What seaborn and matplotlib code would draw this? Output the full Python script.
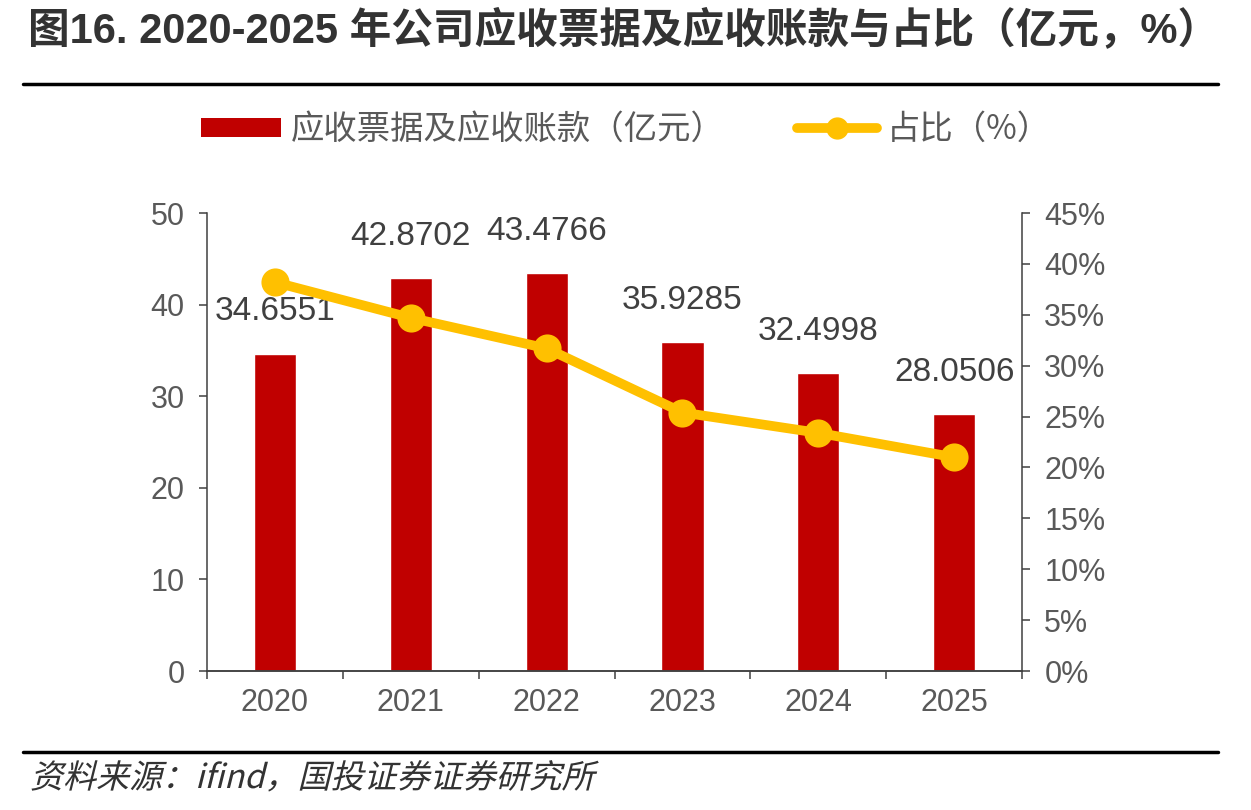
import numpy as np
import pandas as pd
import seaborn as sns
import matplotlib.pyplot as plt
from matplotlib.lines import Line2D
from matplotlib.patches import Patch, PathPatch
from matplotlib.textpath import TextPath
from matplotlib.transforms import Affine2D
from matplotlib.font_manager import FontProperties
from matplotlib.ticker import MultipleLocator, FuncFormatter

sns.set_style('white')
plt.rcParams['font.family'] = ['Liberation Sans', 'Noto Sans CJK SC', 'DejaVu Sans']

years = ['2020', '2021', '2022', '2023', '2024', '2025']
receivables = [34.6551, 42.8702, 43.4766, 35.9285, 32.4998, 28.0506]
ratio = [38.2, 34.7, 31.7, 25.4, 23.4, 21.0]
bar_name = '应收票据及应收账款（亿元）'
line_name = '占比（%）'
title = '图16. 2020-2025 年公司应收票据及应收账款与占比（亿元，%）'
source = '资料来源：ifind，国投证券证券研究所'

df = pd.DataFrame({'year': years, 'value': receivables, 'ratio': ratio})

red = '#C00000'
gold = '#FFC000'
grey = '#595959'
dark = '#404040'
cjk = ['Noto Sans CJK SC', 'DejaVu Sans']

fig = plt.figure(figsize=(12.51, 8.1), dpi=100)
ax = fig.add_axes([0.1655, 0.1716, 0.6515, 0.5654])

sns.barplot(data=df, x='year', y='value', color=red, width=0.31,
            saturation=1, ax=ax)
ax.set_ylim(0, 50)
ax.set_xlim(-0.5, 5.5)
ax.yaxis.set_major_locator(MultipleLocator(10))

# data labels above bars
for i, v in enumerate(receivables):
    ax.annotate(f'{v:.4f}', (i, v), xytext=(0, 30), textcoords='offset points',
                ha='center', va='center', fontsize=24, color=dark)

ax2 = ax.twinx()
sns.pointplot(data=df, x='year', y='ratio', color=gold, markers='o',
              markersize=15, linewidth=7, ax=ax2)
ax2.set_ylim(0, 45)
ax2.set_xlim(-0.5, 5.5)
ax2.yaxis.set_major_locator(MultipleLocator(5))
ax2.yaxis.set_major_formatter(FuncFormatter(lambda v, p: f'{v:.0f}%'))

for a in (ax, ax2):
    a.set_xlabel('')
    a.set_ylabel('')
    a.spines['top'].set_visible(False)
    for s in ('left', 'right', 'bottom'):
        a.spines[s].set_color(dark)
        a.spines[s].set_linewidth(1.1)
    a.tick_params(axis='y', direction='out', length=6, width=1.1,
                  color=dark, labelsize=22, labelcolor=grey, pad=10)

ax.spines['right'].set_visible(False)
ax2.spines['left'].set_visible(False)
ax.tick_params(axis='y', left=True)
ax2.tick_params(axis='y', right=True)

# x ticks: labels at categories, marks between categories
ax.set_xticks(range(len(years)))
ax.set_xticklabels(years)
ax.tick_params(axis='x', which='major', length=0, labelsize=22,
               labelcolor=grey, pad=12)
ax.set_xticks(np.arange(-0.5, 6, 1), minor=True)
ax.tick_params(axis='x', which='minor', direction='out', length=6,
               width=1.1, color=dark, bottom=True)
ax2.tick_params(axis='x', length=0, labelbottom=False)

# legend
handles = [Patch(facecolor=red, edgecolor='none', label=bar_name),
           Line2D([], [], color=gold, lw=7, marker='o', markersize=15,
                  label=line_name)]
fig.legend(handles=handles, loc='center', bbox_to_anchor=(0.5004, 0.84),
           ncol=2, frameon=False, handlelength=2.4, handleheight=0.5,
           handletextpad=0.3, columnspacing=2.15,
           prop={'family': cjk, 'size': 24}, labelcolor=grey)

# title and rules
fig.text(0.022, 0.963, title, fontsize=30, fontweight='bold', color='#333333',
         va='center', family=['Liberation Sans', 'Noto Sans CJK SC'])
fig.add_artist(Line2D([0.018, 0.974], [0.896, 0.896], color='black', lw=2.5))
fig.add_artist(Line2D([0.018, 0.974], [0.072, 0.072], color='black', lw=2.5))

# slanted source note (CJK font has no italic face)
tp = TextPath((0, 0), source, size=33, prop=FontProperties(family='Noto Sans CJK SC'))
skew = Affine2D().skew_deg(14, 0).translate(30, 810 - 788)
fig.add_artist(PathPatch(tp, transform=skew, facecolor='#333333', lw=0))

fig.savefig('out.png', dpi=100)
